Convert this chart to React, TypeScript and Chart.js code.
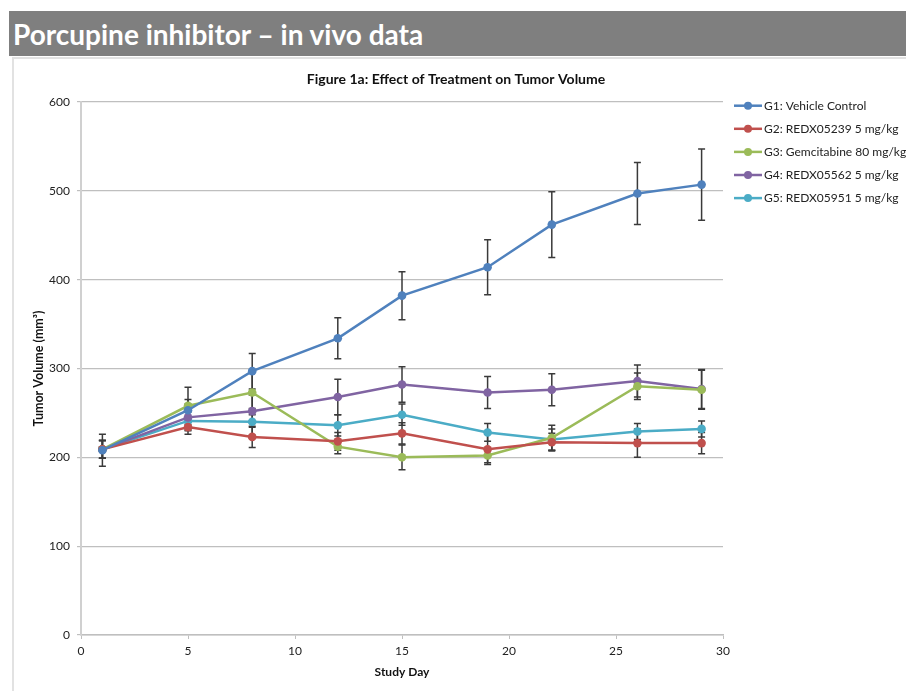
import { useEffect, useRef } from "react";
import { Chart, registerables } from "chart.js";

Chart.register(...registerables);

const days = [1, 5, 8, 12, 15, 19, 22, 26, 29];
const seriesLabels = [
  "G1: Vehicle Control",
  "G2: REDX05239 5 mg/kg",
  "G3: Gemcitabine 80 mg/kg",
  "G4: REDX05562 5 mg/kg",
  "G5: REDX05951 5 mg/kg",
];
const g1 = [208, 253, 297, 334, 382, 414, 462, 497, 507];
const g2 = [209, 234, 223, 218, 227, 209, 217, 216, 216];
const g3 = [209, 258, 273, 212, 200, 202, 222, 280, 276];
const g4 = [209, 245, 252, 268, 282, 273, 276, 286, 277];
const g5 = [209, 241, 240, 236, 248, 228, 220, 229, 232];
const e1 = [18, 12, 20, 23, 27, 31, 37, 35, 40];
const e2 = [10, 8, 12, 10, 12, 17, 10, 16, 12];
const e3 = [10, 21, 25, 8, 14, 8, 14, 15, 22];
const e4 = [10, 15, 18, 20, 20, 18, 18, 18, 22];
const e5 = [10, 10, 15, 12, 12, 10, 12, 9, 9];
const seriesValues = [g1, g2, g3, g4, g5];
const seriesErrors = [e1, e2, e3, e4, e5];
const colors = ["#4F81BD", "#C0504D", "#9BBB59", "#8064A2", "#4BACC6"];
const chartTitle = "Figure 1a: Effect of Treatment on Tumor Volume";
const xTitle = "Study Day";
const yTitle = "Tumor Volume (mm³)";
const bannerText = "Porcupine inhibitor – in vivo data";

const FONT = "Lato, 'Open Sans', sans-serif";

const errorBarPlugin = {
  id: "errorBars",
  beforeDatasetsDraw(chart: any) {
    const { ctx, scales } = chart;
    const xs = scales.x;
    const ys = scales.y;
    ctx.save();
    chart.data.datasets.forEach((ds: any) => {
      const errs: number[] = ds.errors || [];
      ds.data.forEach((p: any, j: number) => {
        const e = errs[j];
        if (e == null) return;
        const x = xs.getPixelForValue(p.x);
        const yt = ys.getPixelForValue(p.y + e);
        const yb = ys.getPixelForValue(p.y - e);
        ctx.strokeStyle = "#3a3a3a";
        ctx.lineWidth = 1.5;
        ctx.beginPath();
        ctx.moveTo(x, yt);
        ctx.lineTo(x, yb);
        ctx.moveTo(x - 3.5, yt);
        ctx.lineTo(x + 3.5, yt);
        ctx.moveTo(x - 3.5, yb);
        ctx.lineTo(x + 3.5, yb);
        ctx.stroke();
      });
    });
    ctx.restore();
  },
};

const titleLegendPlugin = {
  id: "titleAndLegend",
  afterDraw(chart: any) {
    const { ctx } = chart;
    ctx.save();
    // chart title
    ctx.fillStyle = "#111";
    ctx.font = `bold 14px ${FONT}`;
    ctx.textAlign = "center";
    ctx.textBaseline = "middle";
    ctx.fillText(chartTitle, 442, 20);
    // legend
    const x0 = chart.chartArea.right + 11;
    const y0 = 46.7;
    const step = 23.1;
    chart.data.datasets.forEach((ds: any, i: number) => {
      const y = y0 + i * step;
      ctx.strokeStyle = ds.borderColor;
      ctx.lineWidth = 2.5;
      ctx.beginPath();
      ctx.moveTo(x0, y);
      ctx.lineTo(x0 + 28, y);
      ctx.stroke();
      ctx.fillStyle = ds.borderColor;
      ctx.beginPath();
      ctx.arc(x0 + 14, y, 4, 0, Math.PI * 2);
      ctx.fill();
      ctx.fillStyle = "#222";
      ctx.font = `12px ${FONT}`;
      ctx.textBaseline = "middle";
      ctx.textAlign = "left";
      ctx.fillText(ds.label, x0 + 30, y + 0.5);
    });
    ctx.restore();
  },
};

export default function App() {
  const ref = useRef<HTMLCanvasElement | null>(null);

  useEffect(() => {
    if (!ref.current) return;
    const datasets = seriesLabels.map((label, i) => ({
      label,
      data: days.map((d, j) => ({ x: d, y: seriesValues[i][j] })),
      errors: seriesErrors[i],
      borderColor: colors[i],
      backgroundColor: colors[i],
      pointBackgroundColor: colors[i],
      pointBorderColor: colors[i],
      borderWidth: 2.5,
      pointRadius: 4.3,
      pointBorderWidth: 0,
      tension: 0,
      fill: false,
    }));
    const chart = new Chart(ref.current, {
      type: "line",
      data: { datasets } as any,
      plugins: [errorBarPlugin, titleLegendPlugin],
      options: {
        animation: false,
        responsive: false,
        devicePixelRatio: 1,
        layout: { padding: { left: 0, right: 183, top: 43, bottom: 0 } },
        plugins: {
          legend: { display: false },
          tooltip: { enabled: false },
          title: { display: false },
        },
        scales: {
          x: {
            type: "linear",
            min: 0,
            max: 30,
            ticks: {
              stepSize: 5,
              color: "#222",
              font: { family: FONT, size: 12 },
              padding: 5,
              maxRotation: 0,
            },
            grid: {
              drawOnChartArea: false,
              drawTicks: true,
              tickLength: 4,
              color: "#bfbfbf",
            },
            border: { display: true, color: "#bfbfbf", width: 1.5 },
            title: {
              display: true,
              text: xTitle,
              color: "#111",
              font: { family: FONT, size: 12, weight: "bold" },
              padding: { top: 0, bottom: 12 },
            },
            afterFit(scale: any) {
              scale.height = 56;
            },
          },
          y: {
            type: "linear",
            min: 0,
            max: 600,
            ticks: {
              stepSize: 100,
              color: "#222",
              font: { family: FONT, size: 12 },
              padding: 7,
            },
            grid: {
              color: "#bfbfbf",
              lineWidth: 1.2,
              drawTicks: true,
              tickLength: 4,
            },
            border: { display: true, color: "#d0d0d0", width: 2 },
            title: {
              display: true,
              text: yTitle,
              color: "#111",
              font: { family: FONT, size: 12.5, weight: "bold" },
              padding: { top: 17, bottom: 0 },
            },
            afterFit(scale: any) {
              scale.width = 67;
            },
          },
        },
      } as any,
    });
    return () => chart.destroy();
  }, []);

  return (
    <div
      style={{
        position: "fixed",
        left: 0,
        top: 0,
        width: 906,
        height: 691,
        overflow: "hidden",
        background: "#fff",
      }}
    >
      <div
        style={{
          position: "absolute",
          left: 9,
          top: 11,
          width: 897,
          height: 45,
          background: "#7f7f7f",
          color: "#fff",
          fontFamily: FONT,
          fontWeight: "bold",
          fontSize: 28,
          lineHeight: "47px",
          paddingLeft: 4,
          boxSizing: "border-box",
          whiteSpace: "nowrap",
        }}
      >
        {bannerText}
      </div>
      <div
        style={{
          position: "absolute",
          left: 12,
          top: 57,
          width: 894,
          height: 634,
          borderLeft: "2px solid #e2e2e2",
          borderTop: "2px solid #e2e2e2",
          boxSizing: "border-box",
        }}
      />
      <canvas
        ref={ref}
        width={892}
        height={632}
        style={{ position: "absolute", left: 14, top: 59, width: 892, height: 632 }}
      />
    </div>
  );
}
